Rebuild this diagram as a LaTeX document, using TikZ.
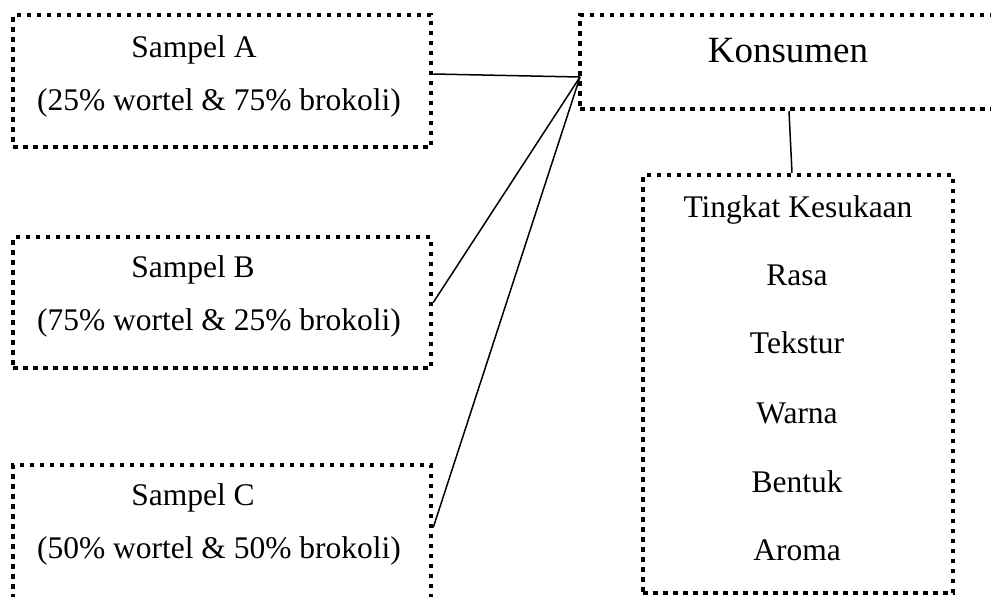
\documentclass[tikz,border=0pt]{standalone}
\usepackage{fontspec}
\setmainfont{Liberation Serif}
\usetikzlibrary{positioning}

\begin{document}
\begin{tikzpicture}[x=0.5pt,y=-0.5pt,
	box/.style={draw,line width=2.25pt,dash pattern=on 2.25pt off 2.75pt,
		inner sep=0pt},
	item/.style={font=\fontsize{15.75}{18}\selectfont,inner sep=0pt,anchor=base},
	link/.style={line width=0.75pt}]
	\useasboundingbox (0,0) rectangle (991,596);
	
	% boxes
	\node[box, minimum width=209pt, minimum height=66pt]   (A) at (222,81)    {};
	\node[box, minimum width=209pt, minimum height=65.5pt] (B) at (222,302.5) {};
	\node[box, minimum width=209pt, minimum height=67.5pt] (C) at (222,532.5) {};
	\node[box, minimum width=215pt, minimum height=47pt]   (K) at (795,62)    {};
	\node[box, minimum width=155pt, minimum height=209pt]  (T) at (798,384)   {};
	
	% texts
	\node[item] (A1) at (194,57)  {Sampel A};
	\node[item] (A2) at (219,110) {(25\% wortel \& 75\% brokoli)};
	\node[item] (B1) at (193,277) {Sampel B};
	\node[item] (B2) at (219,330) {(75\% wortel \& 25\% brokoli)};
	\node[item] (C1) at (193,505) {Sampel C};
	\node[item] (C2) at (219,558) {(50\% wortel \& 50\% brokoli)};
	\node[item, font=\fontsize{18.5}{22}\selectfont] (K1) at (788,62) {Konsumen};
	\node[item] (T0) at (798,217) {Tingkat Kesukaan};
	\node[item] (T1) at (797,285) {Rasa};
	\node[item] (T2) at (797,353) {Tekstur};
	\node[item] (T3) at (797,423) {Warna};
	\node[item] (T4) at (797,492) {Bentuk};
	\node[item] (T5) at (797,560) {Aroma};
	
	\coordinate (hub) at (580,77);
	
	\path[link]
	([yshift=3.5pt]A.east) edge (hub)
	(B.east) edge (hub)
	([yshift=2.5pt]C.east) edge (hub)
	([xshift=-3pt]K.south) edge ([xshift=-3pt]T.north);
\end{tikzpicture}
\end{document}
